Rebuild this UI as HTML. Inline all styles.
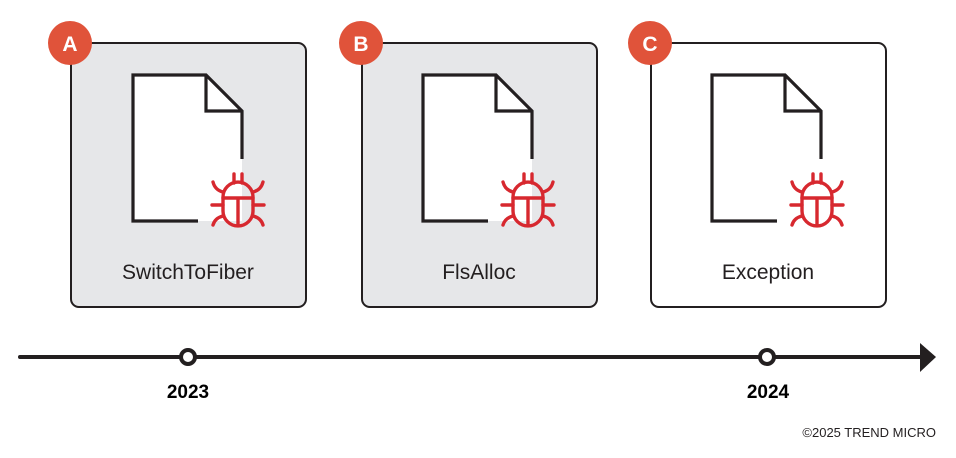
<!DOCTYPE html>
<html><head><style>body{margin:0;background:#fff}svg{display:block}</style></head><body>
<svg width="956" height="458" viewBox="0 0 956 458" xmlns="http://www.w3.org/2000/svg">
<defs>
<g id="doc">
  <path d="M133,75 H206 L242,111 V221 H133 Z" fill="#fff" stroke="none"/>
  <path d="M198,221 H133 V75 H206 L242,111 V159" fill="none" stroke="#231f20" stroke-width="3.2"/>
  <path d="M206,75 V111 H242" fill="none" stroke="#231f20" stroke-width="3.2"/>
  <g fill="none" stroke="#d7282f" stroke-width="3.4" stroke-linecap="round">
    <path d="M234,174 V183 M242,174 V183"/>
    <path d="M223,197 A15,15 0 0 1 253,197 V211 A15,15 0 0 1 223,211 Z"/>
    <path d="M223,198 H253 M238,198 V225"/>
    <path d="M223,192 Q215,190 213,182 M253,192 Q261,190 263,182"/>
    <path d="M212,205 H223 M253,205 H264"/>
    <path d="M223,216 Q215,218 213,225 M253,216 Q261,218 263,225"/>
  </g>
</g>
</defs>
<g stroke="#231f20" stroke-width="2">
<rect x="71" y="43" width="235" height="264" rx="8" fill="#e6e7e9"/>
<rect x="362" y="43" width="235" height="264" rx="8" fill="#e6e7e9"/>
<rect x="651" y="43" width="235" height="264" rx="8" fill="#fff"/>
</g>
<use href="#doc"/>
<use href="#doc" x="290"/>
<use href="#doc" x="579"/>
<g fill="#e0533a"><circle cx="70" cy="43" r="22"/><circle cx="361" cy="43" r="22"/><circle cx="650" cy="43" r="22"/></g>
<g font-family="Liberation Sans, sans-serif" font-weight="bold" font-size="21" fill="#fff" text-anchor="middle">
<text x="70" y="51">A</text><text x="361" y="51">B</text><text x="650" y="51">C</text></g>
<g font-family="Liberation Sans, sans-serif" font-size="21" fill="#231f20" text-anchor="middle">
<text x="188" y="279">SwitchToFiber</text><text x="479" y="279">FlsAlloc</text><text x="768" y="279">Exception</text></g>
<line x1="20" y1="357" x2="924" y2="357" stroke="#231f20" stroke-width="4" stroke-linecap="round"/>
<path d="M920,343 L936,357 L920,372 Z" fill="#231f20"/>
<circle cx="188" cy="357" r="7" fill="#fff" stroke="#231f20" stroke-width="4"/>
<circle cx="767" cy="357" r="7" fill="#fff" stroke="#231f20" stroke-width="4"/>
<g font-family="Liberation Sans, sans-serif" font-weight="bold" font-size="19" fill="#000" text-anchor="middle">
<text x="188" y="398">2023</text><text x="768" y="398">2024</text></g>
<text x="936" y="437" font-family="Liberation Sans, sans-serif" font-size="13" fill="#231f20" text-anchor="end">©2025 TREND MICRO</text>
</svg>
</body></html>
